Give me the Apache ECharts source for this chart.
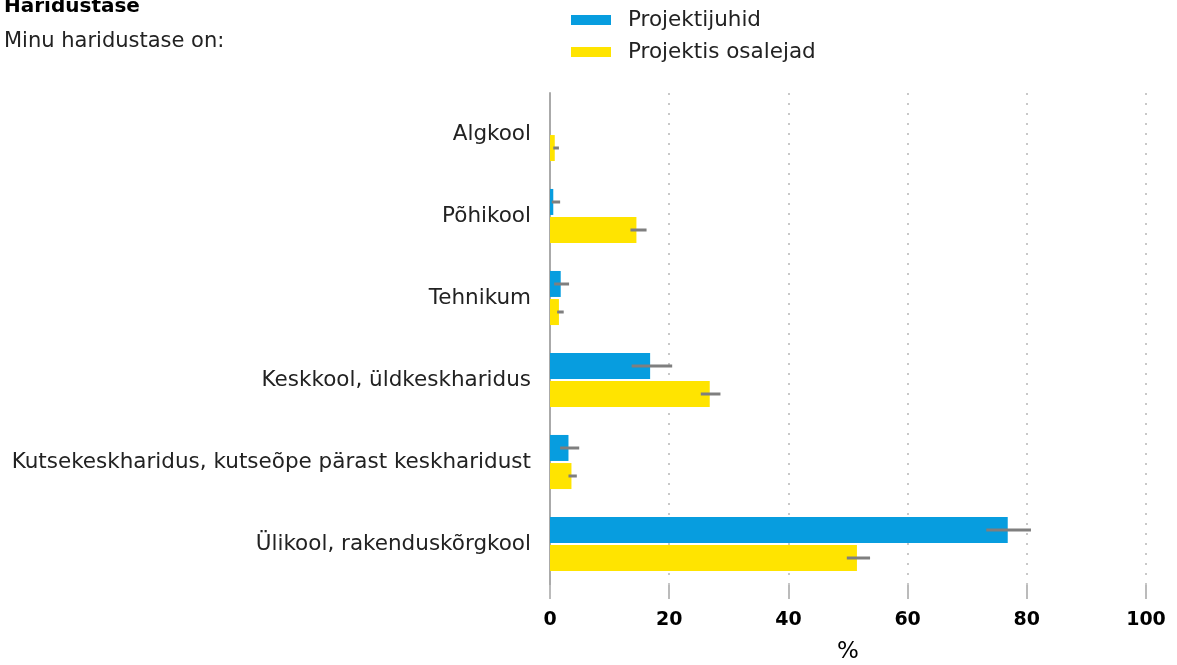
<!DOCTYPE html>
<html>
<head>
<meta charset="utf-8">
<script src="https://cdn.jsdelivr.net/npm/echarts@6/dist/echarts.min.js"></script>
<style>
  html, body { margin: 0; padding: 0; background: #fff; }
  #main { width: 1177px; height: 665px; }
</style>
</head>
<body>
<div id="main"></div>
<script>
// kategooriad
const categories = [
  'Algkool',
  'Põhikool',
  'Tehnikum',
  'Keskkool, üldkeskharidus',
  'Kutsekeskharidus, kutseõpe pärast keskharidust',
  'Ülikool, rakenduskõrgkool'
]
// Projektijuhid
const leaders = [null, 0.55, 1.8, 16.8, 3.1, 76.8]
const leadersLow = [null, 0.3, 0.7, 13.7, 1.7, 73.2]
const leadersHigh = [null, 1.7, 3.2, 20.5, 4.9, 80.7]
// Projektis osalejad
const members = [0.8, 14.5, 1.5, 26.8, 3.6, 51.5]
const membersLow = [0.55, 13.5, 1.2, 25.3, 3.1, 49.8]
const membersHigh = [1.5, 16.2, 2.3, 28.6, 4.5, 53.7]
const xTicks = [0, 20, 40, 60, 80, 100]

const FONT = 'DejaVu Sans'
const BAR_W = 26

function errData(low, high) {
  return low.map((l, i) => (l == null ? null : [l, high[i], i])).filter(d => d)
}

// vearibad: horisontaalne joon tulba keskel
function errRender(shift) {
  return function (params, api) {
    const p1 = api.coord([api.value(0), api.value(2)])
    const p2 = api.coord([api.value(1), api.value(2)])
    const y = p1[1] + shift
    return {
      type: 'line',
      shape: { x1: p1[0], y1: y, x2: p2[0], y2: y },
      style: { stroke: '#7f7f7f', lineWidth: 3 }
    }
  }
}

var myChart = echarts.init(document.getElementById('main'))
let option = {
  textStyle: { fontFamily: FONT },
  title: {
    text: 'Haridustase',
    subtext: 'Minu haridustase on:',
    left: -1,
    top: -8,
    itemGap: 14,
    textStyle: { fontFamily: FONT, fontSize: 20, fontWeight: 'bold', color: '#000' },
    subtextStyle: { fontFamily: FONT, fontSize: 21, color: '#222' }
  },
  legend: {
    data: ['Projektijuhid', 'Projektis osalejad'],
    orient: 'vertical',
    left: 566,
    top: 4,
    itemWidth: 40,
    itemHeight: 10,
    itemGap: 10,
    icon: 'rect',
    textStyle: { fontFamily: FONT, fontSize: 21.5, color: '#222', padding: [0, 0, 0, 12] }
  },
  grid: {
    left: 550,
    right: 31,
    top: 93,
    height: 492,
    outerBoundsMode: 'none'
  },
  xAxis: {
    type: 'value',
    min: 0,
    max: 100,
    interval: 20,
    name: '%',
    nameLocation: 'middle',
    nameGap: 56,
    nameTextStyle: { fontFamily: FONT, fontSize: 23, color: '#000' },
    axisLine: { show: false },
    axisTick: { show: true, length: 14, lineStyle: { color: '#bbb', width: 2 } },
    axisLabel: {
      fontFamily: FONT, fontSize: 19, fontWeight: 'bold', color: '#000', margin: 26,
      formatter: v => (xTicks.includes(v) ? String(v) : '')
    },
    splitLine: { show: true, lineStyle: { color: '#c8c8c8', type: [2, 8], width: 2 } }
  },
  yAxis: {
    type: 'category',
    data: categories,
    inverse: true,
    axisLine: { show: true, lineStyle: { color: '#aaa', width: 2 } },
    axisTick: { show: false },
    axisLabel: { fontFamily: FONT, fontSize: 21.5, color: '#222', margin: 19 }
  },
  series: [
    {
      name: 'Projektijuhid',
      type: 'bar',
      data: leaders,
      barWidth: BAR_W,
      barGap: '8%',
      itemStyle: { color: '#079ddf' }
    },
    {
      name: 'Projektis osalejad',
      type: 'bar',
      data: members,
      barWidth: BAR_W,
      barGap: '8%',
      itemStyle: { color: '#ffe400' }
    },
    {
      type: 'custom',
      renderItem: errRender(-(BAR_W + 2) / 2),
      encode: { x: [0, 1], y: 2 },
      data: errData(leadersLow, leadersHigh),
      z: 10
    },
    {
      type: 'custom',
      renderItem: errRender((BAR_W + 2) / 2),
      encode: { x: [0, 1], y: 2 },
      data: errData(membersLow, membersHigh),
      z: 10
    }
  ]
}
myChart.setOption(option)
</script>
</body>
</html>
